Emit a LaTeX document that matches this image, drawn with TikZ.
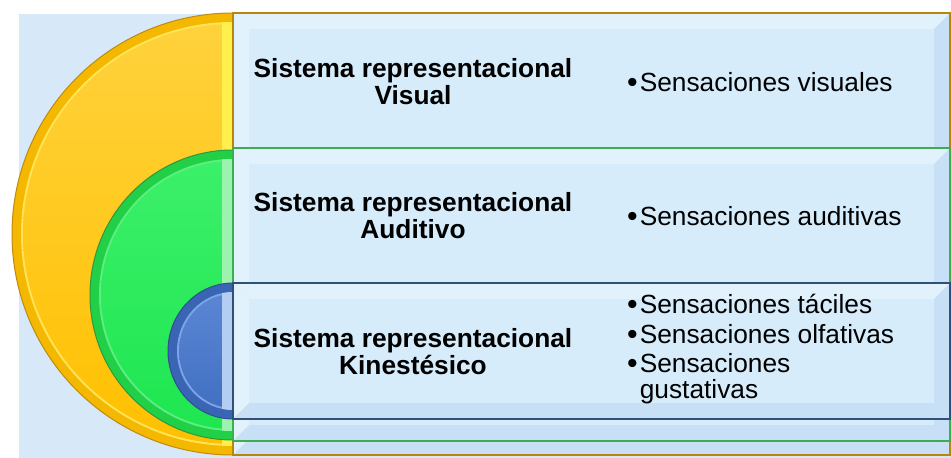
\documentclass[tikz,border=0pt]{standalone}
\usepackage{fontspec}
\setmainfont{Liberation Sans}
\usetikzlibrary{calc}
\definecolor{bgblue}{HTML}{D7E9F9}
\definecolor{face}{HTML}{D6ECFB}
\definecolor{bevlight}{HTML}{E1F2FD}
\definecolor{bevdark}{HTML}{C8E0F5}
\definecolor{yrim}{HTML}{C08A10}
\definecolor{yband}{HTML}{F4B800}
\definecolor{yhi}{HTML}{FFE45A}
\definecolor{yfacetop}{HTML}{FFD23C}
\definecolor{yfacebot}{HTML}{FFC000}
\definecolor{ystrip}{HTML}{FFF04E}
\definecolor{ybord}{HTML}{B8860B}
\definecolor{grim}{HTML}{2A9A3C}
\definecolor{gband}{HTML}{22D048}
\definecolor{ghi}{HTML}{5EEE80}
\definecolor{gfacetop}{HTML}{3CF06A}
\definecolor{gfacebot}{HTML}{1EE650}
\definecolor{gstrip}{HTML}{9CF3B0}
\definecolor{gbord}{HTML}{3CAE4E}
\definecolor{brim}{HTML}{2F4F8F}
\definecolor{bband}{HTML}{3A64B4}
\definecolor{bhi}{HTML}{7DA4E6}
\definecolor{bfacetop}{HTML}{5A86D4}
\definecolor{bfacebot}{HTML}{4270C2}
\definecolor{bstrip}{HTML}{B4CEF2}
\definecolor{bbord}{HTML}{30507A}
\newcommand\bevelbox[2]{%
  \fill[bevlight] (#1.north west) -- ($(#1.north west)+(16,16)$) -- ($(#1.south west)+(16,-16)$) -- (#1.south west) -- cycle;
  \fill[bevlight] (#1.north west) -- (#1.north east) -- ($(#1.north east)+(-16,16)$) -- ($(#1.north west)+(16,16)$) -- cycle;
  \fill[bevdark] (#1.north east) -- (#1.south east) -- ($(#1.south east)+(-16,-16)$) -- ($(#1.north east)+(-16,16)$) -- cycle;
  \fill[bevdark] (#1.south west) -- (#1.south east) -- ($(#1.south east)+(-16,-16)$) -- ($(#1.south west)+(16,-16)$) -- cycle;
  \draw[#2, line width=1.2pt] (#1.north west) rectangle (#1.south east);}
\newcommand\halfdisk[9]{%
  % #1 cy, #2 rx, #3 ry, #4 rim, #5 band, #6 hi, #7 face top, #8 face bottom, #9 strip
  \begin{scope}
    \clip (0,0) rectangle (233,458);
    \fill[#5, draw=#4, line width=1pt] (233,#1) ellipse [x radius=#2, y radius=#3];
    \fill[#6] (233,#1) ellipse [x radius=#2-9, y radius=#3-9];
    \shade[top color=#7, bottom color=#8] (233,#1) ellipse [x radius=#2-11, y radius=#3-11];
    \begin{scope}
      \clip (233,#1) ellipse [x radius=#2-9, y radius=#3-9];
      \fill[#9] (222,0) rectangle (233,458);
    \end{scope}
  \end{scope}}
\newcommand\bul{\raisebox{-1.6pt}{\scalebox{1.15}{•}}\kern2pt}
\begin{document}
\begin{tikzpicture}[x=1pt,y=-1pt,
  rowbox/.style={fill=face, draw=none, inner sep=0pt, outer sep=0pt, anchor=north west},
  lbl/.style={font=\bfseries\fontsize{26.3}{27}\selectfont, align=center, anchor=base, inner sep=0pt},
  itm/.style={font=\fontsize{26.3}{26}\selectfont, align=left, anchor=base west, inner sep=0pt}]
\useasboundingbox (0,0) rectangle (951,458);
\fill[bgblue] (19,14) rectangle (951,458);
% yellow
\halfdisk{234}{221}{221}{yrim}{yband}{yhi}{yfacetop}{yfacebot}{ystrip}
\node[rowbox, minimum width=717pt, minimum height=442pt] (rvis) at (233,13) {};
\bevelbox{rvis}{ybord}
% green
\halfdisk{295}{143}{145}{grim}{gband}{ghi}{gfacetop}{gfacebot}{gstrip}
\node[rowbox, minimum width=717pt, minimum height=293pt] (raud) at (233,148) {};
\bevelbox{raud}{gbord}
% blue
\halfdisk{351}{65}{68}{brim}{bband}{bhi}{bfacetop}{bfacebot}{bstrip}
\node[rowbox, minimum width=717pt, minimum height=136pt] (rkin) at (233,283) {};
\bevelbox{rkin}{bbord}
% texts (base anchor = baseline of the last line)
\node[lbl] (tvis) at (413,104) {Sistema representacional\\Visual};
\node[lbl] (taud) at (413,238) {Sistema representacional\\Auditivo};
\node[lbl] (tkin) at (413,374) {Sistema representacional\\Kinestésico};
\node[itm] (svis) at (627,91) {\bul Sensaciones visuales};
\node[itm] (saud) at (627,225) {\bul Sensaciones auditivas};
\node[itm] (skin) at (627,398) {\bul Sensaciones táciles\\[4pt]\bul Sensaciones olfativas\\[3pt]\bul Sensaciones\\\phantom{\bul}gustativas};
\end{tikzpicture}
\end{document}
